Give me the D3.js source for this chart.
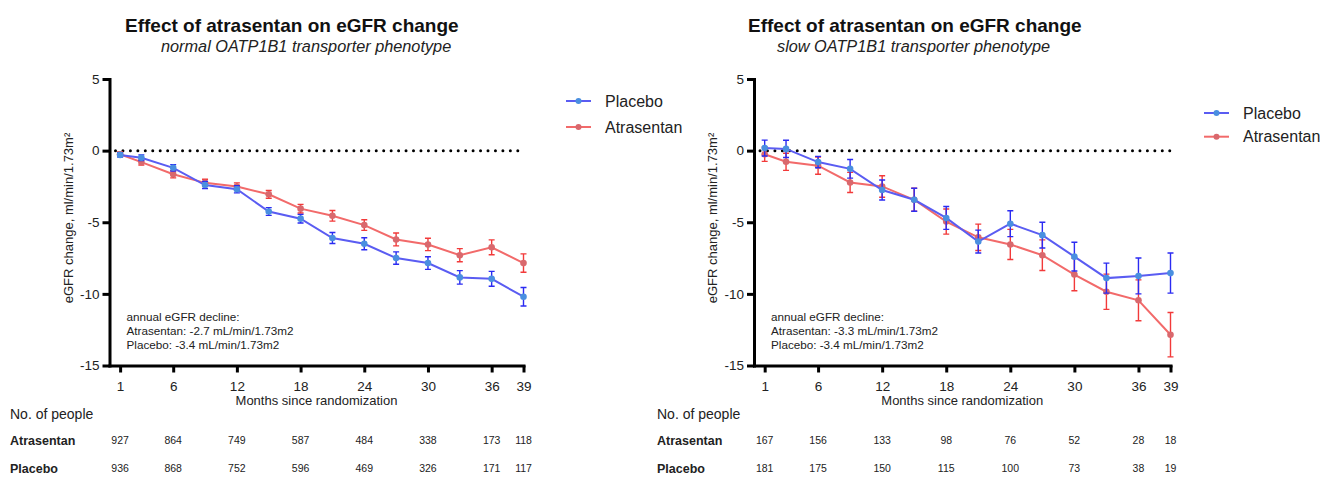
<!DOCTYPE html>
<html>
<head>
<meta charset="utf-8">
<title>Effect of atrasentan on eGFR change</title>
<script src="https://cdn.jsdelivr.net/npm/d3@7"></script>
<style>
  body { margin: 0; background: #fff; }
  svg { display: block; }
</style>
</head>
<body>
<div id="chartdiv"></div>
<script>
/*global d3 */

// visits (months since randomization) and axis ticks
var visitMonths = [1, 3, 6, 9, 12, 15, 18, 21, 24, 27, 30, 33, 36, 39];
var axisMonths = [1, 6, 12, 18, 24, 30, 36, 39];
var changeTicks = [5, 0, -5, -10, -15];

// normal OATP1B1 phenotype, mean eGFR change and error
var normalPlacebo = [-0.3, -0.5, -1.2, -2.4, -2.7, -4.25, -4.75, -6.1, -6.5, -7.5, -7.85, -8.85, -8.95, -10.2];
var normalPlaceboErr = [0.15, 0.2, 0.22, 0.25, 0.25, 0.27, 0.3, 0.38, 0.42, 0.43, 0.44, 0.47, 0.52, 0.65];
var normalAtrasentan = [-0.25, -0.8, -1.65, -2.25, -2.5, -3.05, -4.05, -4.55, -5.2, -6.2, -6.55, -7.3, -6.75, -7.85];
var normalAtrasentanErr = [0.15, 0.2, 0.25, 0.25, 0.25, 0.27, 0.3, 0.37, 0.37, 0.45, 0.43, 0.46, 0.52, 0.64];

// slow OATP1B1 phenotype
var slowPlacebo = [0.18, 0.12, -0.8, -1.27, -2.75, -3.43, -4.7, -6.35, -5.1, -5.9, -7.4, -8.9, -8.75, -8.55];
var slowPlaceboErr = [0.55, 0.6, 0.4, 0.65, 0.7, 0.8, 0.8, 0.8, 0.9, 0.9, 1.0, 1.05, 1.25, 1.4];
var slowAtrasentan = [-0.25, -0.78, -1.05, -2.22, -2.5, -3.43, -4.95, -6.05, -6.55, -7.3, -8.65, -9.85, -10.45, -12.85];
var slowAtrasentanErr = [0.5, 0.6, 0.6, 0.7, 0.75, 0.8, 0.88, 0.92, 1.05, 1.07, 1.13, 1.23, 1.43, 1.55];

// number at risk, at axisMonths
var normalAtrasentanN = [927, 864, 749, 587, 484, 338, 173, 118];
var normalPlaceboN = [936, 868, 752, 596, 469, 326, 171, 117];
var slowAtrasentanN = [167, 156, 133, 98, 76, 52, 28, 18];
var slowPlaceboN = [181, 175, 150, 115, 100, 73, 38, 19];

var normalDecline = ["annual eGFR decline:", "Atrasentan: -2.7 mL/min/1.73m2",
                     "Placebo: -3.4 mL/min/1.73m2"];
var slowDecline = ["annual eGFR decline:", "Atrasentan: -3.3 mL/min/1.73m2",
                   "Placebo: -3.4 mL/min/1.73m2"];

(function () {
    "use strict";

    var font = "'Liberation Sans', Arial, sans-serif",
        W = 1322, H = 477,
        yRange = [365.5, 79],
        colors = {
            Placebo: {line: "#5a5cf2", dot: "#4a8fe0", err: "#2b2bf2"},
            Atrasentan: {line: "#f26a6a", dot: "#d9686d", err: "#f23a3a"}},
        svg;


    function styleAxis (ag) {
        ag.attr("font-family", font).attr("font-size", 13.5);
        ag.select(".domain").attr("stroke-width", 3)
            .attr("stroke-linecap", "square");
        ag.selectAll(".tick line").attr("stroke-width", 3);
        ag.selectAll(".tick text").attr("fill", "#222");
    }


    function appendSeries (g, x, y, name, vals, errs) {
        var c = colors[name], pts, line;
        pts = visitMonths.map(function (m, i) {
            return {m: m, v: vals[i], e: errs[i]}; });
        // error bars
        pts.forEach(function (p) {
            var top = y(p.v + p.e), bot = y(p.v - p.e), cx = x(p.m);
            g.append("path")
                .attr("d", "M" + cx + "," + top + "V" + bot +
                           "M" + (cx - 3) + "," + top + "H" + (cx + 3) +
                           "M" + (cx - 3) + "," + bot + "H" + (cx + 3))
                .attr("fill", "none")
                .attr("stroke", c.err)
                .attr("stroke-width", 1.4); });
        line = d3.line()
            .x(function (p) { return x(p.m); })
            .y(function (p) { return y(p.v); });
        g.append("path")
            .datum(pts)
            .attr("d", line)
            .attr("fill", "none")
            .attr("stroke", c.line)
            .attr("stroke-width", 2);
        g.selectAll(null).data(pts).enter().append("circle")
            .attr("cx", function (p) { return x(p.m); })
            .attr("cy", function (p) { return y(p.v); })
            .attr("r", 3.3)
            .attr("fill", c.dot);
    }


    function appendLegend (g, spec) {
        ["Placebo", "Atrasentan"].forEach(function (name, i) {
            var ly = spec.legY + i * spec.legGap;
            g.append("line")
                .attr("x1", spec.legX).attr("x2", spec.legX + 25)
                .attr("y1", ly).attr("y2", ly)
                .attr("stroke", colors[name].line)
                .attr("stroke-width", 2);
            g.append("circle")
                .attr("cx", spec.legX + 12.5).attr("cy", ly).attr("r", 3)
                .attr("fill", colors[name].dot);
            g.append("text")
                .attr("x", spec.legX + 39).attr("y", ly)
                .attr("dy", "0.35em")
                .attr("font-family", font).attr("font-size", 16)
                .attr("fill", "#222")
                .text(name); });
    }


    function appendCounts (g, x, spec) {
        g.append("text")
            .attr("x", spec.tableX).attr("y", 419)
            .attr("font-family", font).attr("font-size", 14)
            .attr("fill", "#222")
            .text("No. of people");
        [["Atrasentan", spec.atrN, 445], ["Placebo", spec.plaN, 473]]
            .forEach(function (row) {
                g.append("text")
                    .attr("x", spec.tableX).attr("y", row[2])
                    .attr("font-family", font).attr("font-size", 12.5)
                    .attr("font-weight", "bold")
                    .attr("fill", "#222")
                    .text(row[0]);
                g.selectAll(null).data(row[1]).enter().append("text")
                    .attr("x", function (d, i) { return x(axisMonths[i]); })
                    .attr("y", row[2] - 1)
                    .attr("text-anchor", "middle")
                    .attr("font-family", font).attr("font-size", 10.5)
                    .attr("fill", "#222")
                    .text(function (d) { return d; }); });
    }


    function drawPanel (spec) {
        var g = svg.append("g"), x, y, xg, yg;
        x = d3.scaleLinear().domain([0, 39]).range([spec.left, spec.right]);
        y = d3.scaleLinear().domain([-15, 5]).range(yRange);

        //titles
        g.append("text")
            .attr("x", spec.titleX).attr("y", 32)
            .attr("font-family", font).attr("font-size", 19)
            .attr("font-weight", "bold").attr("fill", "#111")
            .text("Effect of atrasentan on eGFR change");
        g.append("text")
            .attr("x", spec.subX).attr("y", 52)
            .attr("font-family", font).attr("font-size", 16.3)
            .attr("font-style", "italic").attr("fill", "#222")
            .text(spec.subtitle);

        //axes
        yg = g.append("g")
            .attr("transform", "translate(" + spec.left + ",0)")
            .call(d3.axisLeft(y).tickValues(changeTicks).tickSize(7)
                  .tickSizeOuter(0).tickPadding(3).tickFormat(String));
        styleAxis(yg);
        xg = g.append("g")
            .attr("transform", "translate(0," + yRange[0] + ")")
            .call(d3.axisBottom(x).tickValues(axisMonths).tickSize(7)
                  .tickSizeOuter(0).tickPadding(9));
        styleAxis(xg);
        g.append("text")
            .attr("x", (spec.left + spec.right) / 2).attr("y", 405)
            .attr("text-anchor", "middle")
            .attr("font-family", font).attr("font-size", 13)
            .attr("fill", "#222")
            .text("Months since randomization");
        g.append("text")
            .attr("transform", "translate(" + (spec.left - 37) + ",218) rotate(-90)")
            .attr("text-anchor", "middle")
            .attr("font-family", font).attr("font-size", 13)
            .attr("fill", "#222")
            .text("eGFR change, ml/min/1.73m\u00b2");

        //dotted reference at zero
        g.append("line")
            .attr("x1", x(0) + 6).attr("x2", x(39))
            .attr("y1", y(0)).attr("y2", y(0))
            .attr("stroke", "#000").attr("stroke-width", 3)
            .attr("stroke-linecap", "round")
            .attr("stroke-dasharray", "0,7.45");

        appendSeries(g, x, y, "Atrasentan", spec.atr, spec.atrErr);
        appendSeries(g, x, y, "Placebo", spec.pla, spec.plaErr);

        //annual decline note
        g.selectAll(null).data(spec.note).enter().append("text")
            .attr("x", spec.left + 17)
            .attr("y", function (d, i) { return 320.5 + i * 14.4; })
            .attr("font-family", font).attr("font-size", 11.7)
            .attr("fill", "#222")
            .text(function (d) { return d; });

        appendLegend(g, spec);
        appendCounts(g, x, spec);
    }


    svg = d3.select("#chartdiv").append("svg")
        .attr("width", W).attr("height", H)
        .attr("viewBox", "0 0 " + W + " " + H);

    drawPanel({left: 109.5, right: 523.5, titleX: 125, subX: 161,
               subtitle: "normal OATP1B1 transporter phenotype",
               pla: normalPlacebo, plaErr: normalPlaceboErr,
               atr: normalAtrasentan, atrErr: normalAtrasentanErr,
               atrN: normalAtrasentanN, plaN: normalPlaceboN,
               note: normalDecline,
               legX: 566, legY: 101, legGap: 26, tableX: 10});
    drawPanel({left: 754, right: 1170.5, titleX: 748, subX: 777,
               subtitle: "slow OATP1B1 transporter phenotype",
               pla: slowPlacebo, plaErr: slowPlaceboErr,
               atr: slowAtrasentan, atrErr: slowAtrasentanErr,
               atrN: slowAtrasentanN, plaN: slowPlaceboN,
               note: slowDecline,
               legX: 1204, legY: 113, legGap: 23.7, tableX: 657});
}());
</script>
</body>
</html>
